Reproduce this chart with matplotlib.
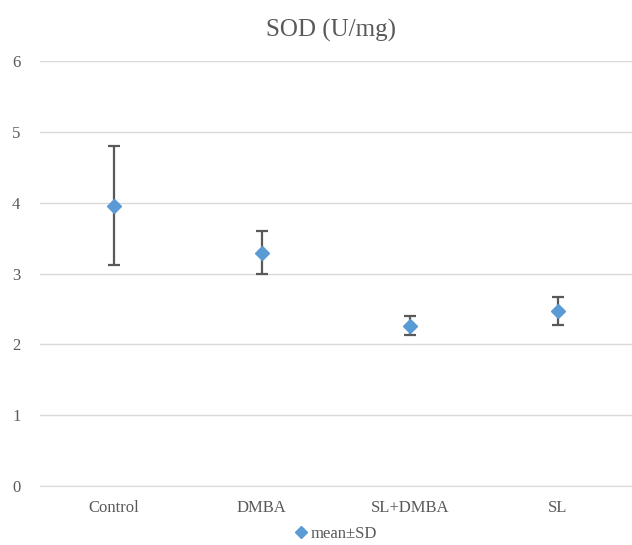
import matplotlib.pyplot as plt
from matplotlib.lines import Line2D

groups = ['Control', 'DMBA', 'SL+DMBA', 'SL']
mean = [3.95, 3.29, 2.26, 2.47]
upper = [4.80, 3.60, 2.40, 2.67]
lower = [3.12, 3.00, 2.13, 2.27]

err_lo = [m - l for m, l in zip(mean, lower)]
err_hi = [u - m for m, u in zip(mean, upper)]

plt.rcParams['font.family'] = ['Liberation Serif', 'DejaVu Serif']

fig = plt.figure(figsize=(6.32, 5.45), dpi=100)
ax = fig.add_axes([0.063, 0.108, 0.937, 0.78])

x = range(len(groups))
ax.errorbar(x, mean, yerr=[err_lo, err_hi], fmt='D', color='#5B9BD5',
            markersize=7, ecolor='#595959', elinewidth=1.6, capsize=4,
            capthick=1.6, zorder=3)

ax.set_xlim(-0.5, 3.5)
ax.set_ylim(0, 6)
ax.set_yticks(range(0, 7))
ax.set_xticks(list(x))
ax.set_xticklabels(groups)
ax.grid(axis='y', color='#D9D9D9', linewidth=1)
ax.set_axisbelow(True)
for s in ['top', 'right', 'left']:
    ax.spines[s].set_visible(False)
ax.spines['bottom'].set_color('#D9D9D9')
ax.tick_params(length=0, colors='#595959', labelsize=12, pad=10)
ax.tick_params(axis='y', pad=14)

fig.suptitle('SOD (U/mg)', x=0.524, y=0.965, fontsize=18, color='#595959')

handle = Line2D([], [], marker='D', linestyle='none', color='#5B9BD5', markersize=6)
fig.legend([handle], ['mean±SD'], loc='lower center', bbox_to_anchor=(0.528, -0.022),
           frameon=False, fontsize=12, labelcolor='#595959', handletextpad=0.0,
           handlelength=1.2)

fig.savefig('out.png', dpi=100)
